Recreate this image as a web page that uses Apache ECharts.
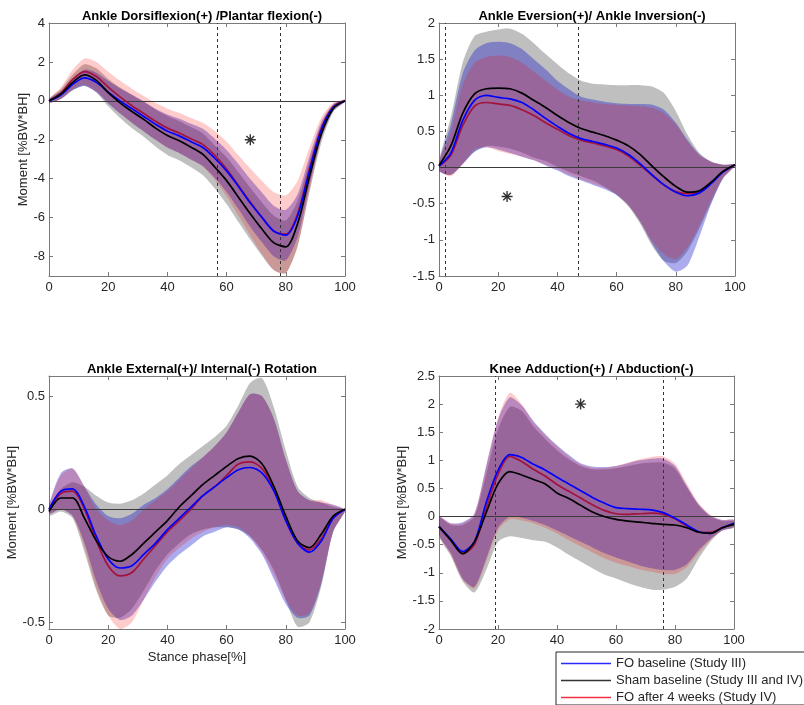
<!DOCTYPE html>
<html>
<head>
<meta charset="utf-8">
<script src="https://cdn.jsdelivr.net/npm/echarts@6/dist/echarts.min.js"></script>
<style>
  html, body { margin: 0; padding: 0; background: #fff; }
  #chart { width: 804px; height: 705px; }
</style>
</head>
<body>
<div id="chart"></div>
<script>
// stance phase samples (%)
const X = [0, 4, 8, 12, 16, 20, 24, 28, 32, 36, 40, 44, 48, 52, 56, 60, 64, 68, 72, 76, 80, 84, 88, 92, 96, 100];

// Ankle dorsiflexion / plantar flexion
const P1_SHAM = [0, 0.35, 0.95, 1.33, 1.05, 0.42, -0.1, -0.55, -0.95, -1.4, -1.78, -2.05, -2.38, -2.75, -3.4, -4.1, -4.95, -5.8, -6.6, -7.3, -7.5, -6.3, -3.9, -1.7, -0.4, 0];
const P1_SHAM_LO = [-0.1, 0.1, 0.55, 0.78, 0.43, -0.28, -0.88, -1.4, -1.85, -2.35, -2.78, -3.05, -3.41, -3.82, -4.5, -5.3, -6.23, -7.13, -7.97, -8.7, -8.85, -7.45, -4.7, -2.15, -0.58, -0.05];
const P1_SHAM_HI = [0.1, 0.6, 1.35, 1.88, 1.67, 1.12, 0.68, 0.3, -0.05, -0.45, -0.78, -1.05, -1.35, -1.68, -2.3, -2.9, -3.67, -4.47, -5.23, -5.9, -6.15, -5.15, -3.1, -1.25, -0.22, 0.05];
const P1_FO = [0, 0.3, 0.85, 1.18, 0.95, 0.45, 0.0, -0.4, -0.8, -1.2, -1.55, -1.8, -2.1, -2.4, -2.95, -3.6, -4.4, -5.25, -6.0, -6.7, -6.9, -5.9, -3.6, -1.5, -0.35, 0];
const P1_FO_LO = [-0.1, 0.1, 0.55, 0.76, 0.45, -0.13, -0.65, -1.12, -1.57, -2.0, -2.4, -2.68, -3.02, -3.36, -3.95, -4.68, -5.56, -6.48, -7.28, -8.0, -8.2, -7.0, -4.35, -1.92, -0.52, -0.05];
const P1_FO_HI = [0.1, 0.5, 1.15, 1.6, 1.45, 1.03, 0.65, 0.32, -0.03, -0.4, -0.7, -0.92, -1.18, -1.44, -1.95, -2.52, -3.24, -4.02, -4.72, -5.4, -5.6, -4.8, -2.85, -1.08, -0.18, 0.05];
const P1_FO4 = [0, 0.4, 1.1, 1.5, 1.25, 0.7, 0.2, -0.25, -0.65, -1.05, -1.4, -1.65, -1.95, -2.25, -2.8, -3.5, -4.35, -5.2, -6.0, -6.7, -6.85, -5.8, -3.5, -1.4, -0.3, 0];
const P1_FO4_LO = [-0.1, 0.1, 0.6, 0.82, 0.5, -0.1, -0.64, -1.12, -1.55, -2.0, -2.4, -2.68, -3.02, -3.37, -4.05, -4.9, -5.9, -6.92, -7.88, -8.7, -8.85, -7.5, -4.6, -1.95, -0.5, -0.05];
const P1_FO4_HI = [0.1, 0.7, 1.6, 2.18, 2.0, 1.5, 1.04, 0.62, 0.25, -0.1, -0.4, -0.62, -0.88, -1.13, -1.55, -2.1, -2.8, -3.48, -4.12, -4.7, -4.85, -4.1, -2.4, -0.85, -0.1, 0.05];
const P1_TICKS = [-8, -6, -4, -2, 0, 2, 4];
const P1_VLINES = [57, 78];
const P1_STAR = [68, -2];

// Ankle eversion / inversion
const P2_SHAM = [0.03, 0.3, 0.75, 1.02, 1.09, 1.1, 1.09, 1.03, 0.93, 0.83, 0.72, 0.62, 0.54, 0.49, 0.44, 0.38, 0.3, 0.18, 0.02, -0.13, -0.26, -0.34, -0.32, -0.2, -0.05, 0.04];
const P2_SHAM_LO = [-0.04, -0.1, 0.05, 0.22, 0.3, 0.29, 0.26, 0.21, 0.14, 0.09, 0.01, -0.06, -0.12, -0.18, -0.27, -0.38, -0.54, -0.78, -1.08, -1.29, -1.32, -1.15, -0.84, -0.48, -0.14, 0.03];
const P2_SHAM_HI = [0.1, 0.7, 1.45, 1.82, 1.88, 1.91, 1.92, 1.85, 1.72, 1.57, 1.43, 1.3, 1.2, 1.16, 1.15, 1.14, 1.14, 1.14, 1.12, 1.03, 0.78, 0.45, 0.2, 0.08, 0.04, 0.05];
const P2_FO = [0.02, 0.2, 0.65, 0.93, 1.0, 0.97, 0.95, 0.9, 0.8, 0.68, 0.57, 0.47, 0.4, 0.36, 0.32, 0.27, 0.18, 0.05, -0.1, -0.24, -0.34, -0.39, -0.35, -0.22, -0.06, 0.04];
const P2_FO_LO = [-0.05, -0.1, 0.05, 0.22, 0.28, 0.25, 0.2, 0.15, 0.1, 0.03, -0.04, -0.12, -0.18, -0.24, -0.3, -0.38, -0.52, -0.75, -1.05, -1.3, -1.44, -1.35, -0.95, -0.5, -0.15, 0.02];
const P2_FO_HI = [0.08, 0.6, 1.3, 1.62, 1.72, 1.74, 1.72, 1.64, 1.5, 1.36, 1.2, 1.08, 0.98, 0.94, 0.91, 0.89, 0.88, 0.88, 0.87, 0.8, 0.62, 0.38, 0.18, 0.08, 0.04, 0.05];
const P2_FO4 = [0.02, 0.17, 0.58, 0.85, 0.9, 0.88, 0.86, 0.8, 0.72, 0.62, 0.53, 0.44, 0.38, 0.34, 0.3, 0.25, 0.16, 0.03, -0.11, -0.24, -0.33, -0.36, -0.33, -0.21, -0.06, 0.04];
const P2_FO4_LO = [-0.04, -0.12, 0.05, 0.25, 0.28, 0.23, 0.19, 0.15, 0.1, 0.04, -0.02, -0.1, -0.16, -0.22, -0.28, -0.37, -0.52, -0.75, -1.02, -1.2, -1.27, -1.1, -0.8, -0.45, -0.14, 0.02];
const P2_FO4_HI = [0.08, 0.5, 1.15, 1.45, 1.53, 1.55, 1.53, 1.45, 1.33, 1.2, 1.08, 0.98, 0.93, 0.9, 0.88, 0.87, 0.86, 0.85, 0.83, 0.75, 0.6, 0.36, 0.17, 0.08, 0.04, 0.05];
const P2_TICKS = [-1.5, -1, -0.5, 0, 0.5, 1, 1.5, 2];
const P2_VLINES = [2, 47];
const P2_STAR = [23, -0.4];

// Ankle external / internal rotation
const P3_SHAM = [-0.01, 0.05, 0.05, -0.04, -0.14, -0.21, -0.23, -0.2, -0.15, -0.1, -0.05, 0.01, 0.06, 0.11, 0.15, 0.19, 0.225, 0.235, 0.2, 0.1, -0.03, -0.14, -0.17, -0.11, -0.03, 0];
const P3_SHAM_LO = [-0.03, -0.01, -0.04, -0.19, -0.36, -0.47, -0.48, -0.44, -0.36, -0.27, -0.2, -0.15, -0.11, -0.09, -0.08, -0.08, -0.09, -0.12, -0.18, -0.27, -0.4, -0.52, -0.5, -0.34, -0.1, -0.01];
const P3_SHAM_HI = [0.01, 0.09, 0.12, 0.1, 0.06, 0.03, 0.025, 0.04, 0.07, 0.11, 0.15, 0.2, 0.24, 0.28, 0.32, 0.37, 0.46, 0.56, 0.58, 0.45, 0.26, 0.1, 0.05, 0.03, 0.01, 0];
const P3_FO = [0, 0.08, 0.09, 0.01, -0.12, -0.22, -0.26, -0.25, -0.2, -0.15, -0.09, -0.04, 0.01, 0.06, 0.1, 0.14, 0.175, 0.185, 0.16, 0.08, -0.05, -0.15, -0.19, -0.14, -0.04, 0];
const P3_FO_LO = [-0.02, 0.0, -0.03, -0.15, -0.32, -0.44, -0.49, -0.47, -0.4, -0.32, -0.25, -0.2, -0.16, -0.12, -0.1, -0.08, -0.09, -0.13, -0.2, -0.31, -0.42, -0.48, -0.47, -0.33, -0.1, -0.01];
const P3_FO_HI = [0.02, 0.16, 0.18, 0.1, 0.02, -0.03, -0.04, -0.02, 0.02, 0.05, 0.09, 0.14, 0.19, 0.23, 0.28, 0.34, 0.43, 0.51, 0.5, 0.4, 0.22, 0.08, 0.04, 0.03, 0.02, 0];
const P3_FO4 = [0, 0.07, 0.08, 0.0, -0.14, -0.25, -0.295, -0.28, -0.22, -0.16, -0.1, -0.05, 0.0, 0.06, 0.1, 0.15, 0.2, 0.21, 0.18, 0.09, -0.05, -0.15, -0.18, -0.13, -0.04, 0];
const P3_FO4_LO = [-0.02, 0.0, -0.03, -0.17, -0.35, -0.47, -0.53, -0.5, -0.4, -0.3, -0.22, -0.17, -0.13, -0.1, -0.08, -0.07, -0.08, -0.12, -0.19, -0.29, -0.4, -0.47, -0.46, -0.32, -0.1, -0.01];
const P3_FO4_HI = [0.02, 0.15, 0.18, 0.1, 0.0, -0.05, -0.07, -0.05, 0.0, 0.04, 0.08, 0.13, 0.18, 0.23, 0.28, 0.34, 0.43, 0.51, 0.5, 0.4, 0.22, 0.08, 0.04, 0.04, 0.02, 0];
const P3_TICKS = [-0.5, 0, 0.5];
const P3_VLINES = [];
const P3_STAR = null;

// Knee adduction / abduction
const P4_SHAM = [-0.18, -0.42, -0.66, -0.45, 0.07, 0.58, 0.8, 0.74, 0.66, 0.58, 0.42, 0.32, 0.2, 0.08, 0.0, -0.05, -0.08, -0.1, -0.12, -0.14, -0.15, -0.2, -0.28, -0.3, -0.2, -0.14];
const P4_SHAM_LO = [-0.35, -0.7, -1.15, -1.35, -0.95, -0.45, -0.35, -0.38, -0.42, -0.45, -0.55, -0.68, -0.8, -0.92, -1.03, -1.1, -1.18, -1.25, -1.3, -1.3, -1.25, -1.1, -0.75, -0.45, -0.25, -0.2];
const P4_SHAM_HI = [-0.02, -0.15, -0.15, 0.0, 0.75, 1.55, 1.95, 1.88, 1.6, 1.38, 1.18, 1.02, 0.9, 0.84, 0.84, 0.86, 0.9, 0.94, 0.96, 0.96, 0.85, 0.52, 0.2, 0.0, -0.08, -0.08];
const P4_FO = [-0.18, -0.4, -0.62, -0.45, 0.25, 0.82, 1.1, 1.05, 0.93, 0.83, 0.7, 0.58, 0.46, 0.34, 0.24, 0.16, 0.14, 0.13, 0.12, 0.07, -0.03, -0.15, -0.27, -0.3, -0.2, -0.12];
const P4_FO_LO = [-0.33, -0.65, -1.1, -1.25, -0.75, -0.2, 0.0, -0.02, -0.08, -0.15, -0.25, -0.35, -0.45, -0.55, -0.65, -0.73, -0.8, -0.87, -0.92, -0.95, -0.95, -0.85, -0.6, -0.4, -0.25, -0.18];
const P4_FO_HI = [0.0, -0.12, -0.1, 0.05, 0.9, 1.72, 2.12, 1.98, 1.7, 1.47, 1.27, 1.1, 0.95, 0.89, 0.88, 0.9, 0.95, 1.0, 1.03, 1.03, 0.9, 0.55, 0.22, 0.02, -0.06, -0.06];
const P4_FO4 = [-0.18, -0.42, -0.66, -0.5, 0.15, 0.75, 1.07, 0.98, 0.84, 0.72, 0.57, 0.45, 0.33, 0.21, 0.11, 0.05, 0.04, 0.05, 0.06, 0.04, -0.04, -0.17, -0.27, -0.28, -0.2, -0.12];
const P4_FO4_LO = [-0.33, -0.68, -1.12, -1.28, -0.8, -0.25, -0.05, -0.07, -0.12, -0.2, -0.3, -0.42, -0.53, -0.64, -0.74, -0.82, -0.88, -0.94, -0.98, -1.02, -1.02, -0.9, -0.65, -0.42, -0.25, -0.18];
const P4_FO4_HI = [0.0, -0.12, -0.12, 0.05, 0.9, 1.75, 2.2, 2.0, 1.68, 1.45, 1.25, 1.07, 0.93, 0.87, 0.87, 0.9, 0.96, 1.02, 1.06, 1.07, 0.94, 0.59, 0.24, 0.03, -0.06, -0.06];
const P4_TICKS = [-2, -1.5, -1, -0.5, 0, 0.5, 1, 1.5, 2, 2.5];
const P4_VLINES = [19, 76];
const P4_STAR = [48, 2];

const NAMES = {
    fo: 'FO baseline (Study III)',
    sham: 'Sham baseline (Study III and IV)',
    fo4: 'FO after 4 weeks (Study IV)'
};

const FONT = '"Liberation Sans", Arial, sans-serif';
const AXIS_COLOR = '#7a7a7a';
const TEXT_COLOR = '#262626';

// band colours are layered gray -> blue -> red, like the original figure
const STYLE = {
    sham: { band: 'rgba(128,128,128,0.5)', line: '#000000' },
    fo: { band: 'rgba(0,0,200,0.33)', line: '#0000ff' },
    fo4: { band: 'rgba(255,0,0,0.2)', line: '#a3123c' }
};

const panels = [
    {
        title: 'Ankle Dorsiflexion(+) /Plantar flexion(-)',
        grid: { left: 49, top: 23, width: 296, height: 253 },
        yMin: -9, yMax: 4, ticks: P1_TICKS, vlines: P1_VLINES, star: P1_STAR,
        yName: true, yNameGap: 12, xName: false,
        sham: [P1_SHAM, P1_SHAM_LO, P1_SHAM_HI],
        fo: [P1_FO, P1_FO_LO, P1_FO_HI],
        fo4: [P1_FO4, P1_FO4_LO, P1_FO4_HI]
    },
    {
        title: 'Ankle Eversion(+)/ Ankle Inversion(-)',
        grid: { left: 439, top: 23, width: 296, height: 253 },
        yMin: -1.5, yMax: 2, ticks: P2_TICKS, vlines: P2_VLINES, star: P2_STAR,
        yName: false, xName: false,
        sham: [P2_SHAM, P2_SHAM_LO, P2_SHAM_HI],
        fo: [P2_FO, P2_FO_LO, P2_FO_HI],
        fo4: [P2_FO4, P2_FO4_LO, P2_FO4_HI]
    },
    {
        title: 'Ankle External(+)/ Internal(-) Rotation',
        grid: { left: 49, top: 376, width: 296, height: 253 },
        yMin: -0.53, yMax: 0.59, ticks: P3_TICKS, vlines: P3_VLINES, star: P3_STAR,
        yName: true, yNameGap: 23, xName: true,
        sham: [P3_SHAM, P3_SHAM_LO, P3_SHAM_HI],
        fo: [P3_FO, P3_FO_LO, P3_FO_HI],
        fo4: [P3_FO4, P3_FO4_LO, P3_FO4_HI]
    },
    {
        title: 'Knee Adduction(+) / Abduction(-)',
        grid: { left: 439, top: 376, width: 295, height: 253 },
        yMin: -2, yMax: 2.5, ticks: P4_TICKS, vlines: P4_VLINES, star: P4_STAR,
        yName: true, yNameGap: 26, xName: false,
        sham: [P4_SHAM, P4_SHAM_LO, P4_SHAM_HI],
        fo: [P4_FO, P4_FO_LO, P4_FO_HI],
        fo4: [P4_FO4, P4_FO4_LO, P4_FO4_HI]
    }
];

// polygon band: upper edge left->right, lower edge right->left
function renderBand(params, api) {
    if (params.dataIndexInside !== 0) return;
    const n = params.dataInsideLength;
    const upper = [], lower = [];
    for (let k = 0; k < n; k++) {
        const x = api.value(0, k);
        upper.push(api.coord([x, api.value(2, k)]));
        lower.push(api.coord([x, api.value(1, k)]));
    }
    const pts = upper.concat(lower.reverse());
    return {
        type: 'polygon',
        shape: { points: pts, smooth: 0.25 },
        style: { fill: api.visual('color') }
    };
}

const grids = [], xAxes = [], yAxes = [], titles = [], series = [];

const tickStyle = { show: true, inside: true, length: 4, lineStyle: { color: AXIS_COLOR } };
const lineStyleAxis = { show: true, onZero: false, lineStyle: { color: AXIS_COLOR, width: 1 } };

panels.forEach((p, i) => {
    grids.push(p.grid);
    titles.push({
        text: p.title,
        left: p.grid.left + p.grid.width / 2,
        top: p.grid.top - 18,
        textAlign: 'center',
        textStyle: { fontFamily: FONT, fontSize: 13, fontWeight: 'bold', color: '#000' }
    });

    // bottom + top x axes
    xAxes.push({
        gridIndex: i, type: 'value', min: 0, max: 100, interval: 20,
        axisLine: lineStyleAxis, axisTick: tickStyle, splitLine: { show: false },
        axisLabel: { color: TEXT_COLOR, fontFamily: FONT, fontSize: 13, margin: 5 },
        name: p.xName ? 'Stance phase[%]' : '', nameLocation: 'middle', nameGap: 22,
        nameTextStyle: { color: TEXT_COLOR, fontFamily: FONT, fontSize: 13 }
    });
    xAxes.push({
        gridIndex: i, type: 'value', min: 0, max: 100, interval: 20, position: 'top',
        axisLine: lineStyleAxis, axisTick: tickStyle, splitLine: { show: false },
        axisLabel: { show: false }
    });

    // left + right y axes
    yAxes.push({
        gridIndex: i, type: 'value', min: p.yMin, max: p.yMax,
        axisLine: lineStyleAxis,
        axisTick: Object.assign({ customValues: p.ticks }, tickStyle),
        axisLabel: { customValues: p.ticks, color: TEXT_COLOR, fontFamily: FONT, fontSize: 13, margin: 4 },
        splitLine: { show: false },
        name: p.yName ? 'Moment [%BW*BH]' : '', nameLocation: 'middle', nameGap: p.yNameGap || 20,
        nameTextStyle: { color: TEXT_COLOR, fontFamily: FONT, fontSize: 13 }
    });
    yAxes.push({
        gridIndex: i, type: 'value', min: p.yMin, max: p.yMax, position: 'right',
        axisLine: lineStyleAxis,
        axisTick: Object.assign({ customValues: p.ticks }, tickStyle),
        axisLabel: { show: false }, splitLine: { show: false }
    });

    const xi = i * 2, yi = i * 2;

    // shaded bands
    ['sham', 'fo', 'fo4'].forEach(g => {
        const lo = p[g][1], hi = p[g][2];
        series.push({
            type: 'custom', name: 'band' + i + g, xAxisIndex: xi, yAxisIndex: yi,
            silent: true, clip: true, z: 1,
            itemStyle: { color: STYLE[g].band },
            renderItem: renderBand,
            encode: { x: 0, y: [1, 2] },
            data: X.map((x, k) => [x, lo[k], hi[k]])
        });
    });

    // reference lines
    series.push({
        type: 'line', name: 'ref' + i, xAxisIndex: xi, yAxisIndex: yi, data: [], silent: true, z: 3,
        markLine: {
            silent: true, symbol: ['none', 'none'], label: { show: false }, animation: false,
            data: [{ yAxis: 0, lineStyle: { color: '#3a3a3a', type: 'solid', width: 1.2 } }]
                .concat(p.vlines.map(v => ({ xAxis: v, lineStyle: { color: '#333', type: [3, 3], width: 1 } })))
        }
    });

    // mean curves
    ['fo4', 'fo', 'sham'].forEach(g => {
        const mean = p[g][0];
        series.push({
            type: 'line', name: NAMES[g], xAxisIndex: xi, yAxisIndex: yi,
            smooth: 0.3, symbol: 'none', z: 5,
            lineStyle: { color: STYLE[g].line, width: 1.7 },
            itemStyle: { color: STYLE[g].line },
            data: X.map((x, k) => [x, mean[k]])
        });
    });

    if (p.star) {
        series.push({
            type: 'scatter', name: 'star' + i, xAxisIndex: xi, yAxisIndex: yi, silent: true, z: 6,
            symbol: 'path://M0,-5L0,5M-5,0L5,0M-3.5,-3.5L3.5,3.5M-3.5,3.5L3.5,-3.5',
            symbolSize: 11,
            itemStyle: { color: 'rgba(0,0,0,0)', borderColor: '#000', borderWidth: 1.4 },
            data: [p.star]
        });
    }
});

const chart = echarts.init(document.getElementById('chart'));
chart.setOption({
    animation: false,
    backgroundColor: '#fff',
    title: titles,
    grid: grids,
    xAxis: xAxes,
    yAxis: yAxes,
    legend: {
        orient: 'vertical',
        left: 556, top: 652,
        padding: [4, 8, 0, 5],
        itemGap: 2,
        itemWidth: 50, itemHeight: 1.5,
        icon: 'rect',
        backgroundColor: '#fff',
        borderColor: '#262626', borderWidth: 1, borderRadius: 0,
        textStyle: { fontFamily: FONT, fontSize: 13, color: TEXT_COLOR, lineHeight: 15 },
        selectedMode: false,
        data: [
            { name: NAMES.fo, itemStyle: { color: '#2a2aff' } },
            { name: NAMES.sham, itemStyle: { color: '#333' } },
            { name: NAMES.fo4, itemStyle: { color: '#f03040' } }
        ]
    },
    series: series
});
</script>
</body>
</html>
